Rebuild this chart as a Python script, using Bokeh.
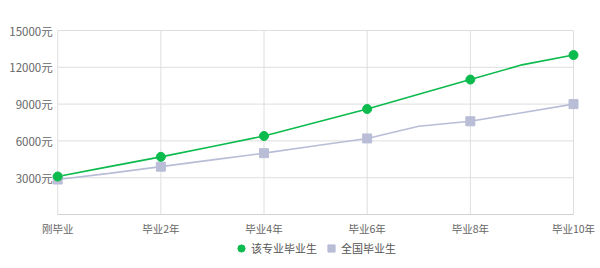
from bokeh.plotting import figure
from bokeh.models import Range1d, Legend, LegendItem
from bokeh.core.properties import value
from bokeh.embed import file_html
from bokeh.resources import INLINE

years = [0, 1, 2, 3, 4, 5, 6, 7, 8, 9, 10]
tick_years = [0, 2, 4, 6, 8, 10]
tick_labels = ["刚毕业", "毕业2年", "毕业4年", "毕业6年", "毕业8年", "毕业10年"]
y_ticks = [3000, 6000, 9000, 12000, 15000]
y_labels = ["3000元", "6000元", "9000元", "12000元", "15000元"]
major_values = [3100, 3900, 4700, 5550, 6400, 7500, 8600, 9800, 11000, 12200, 13000]
national_values = [2850, 3350, 3900, 4450, 5000, 5600, 6200, 7200, 7600, 8300, 9000]
series_names = ["该专业毕业生", "全国毕业生"]

GREEN = "#0cbb4d"
GRAY = "#b9bdd6"
GRID = "#dedede"
FONT = "Noto Sans CJK SC"

W, H = 600, 268
# pixel layout of the plotting area inside the page
left_px, right_px = 57.2, 573.0       # x of first / last year
top_px, zero_px = 30.0, 214.0         # y of top tick / zero line
xs = (right_px - left_px) / (years[-1] - years[0])
ys = (zero_px - top_px) / y_ticks[-1]
x0 = years[0] - left_px / xs
x1 = years[-1] + (W - right_px) / xs
y1 = y_ticks[-1] + top_px / ys
y0 = -(H - zero_px) / ys

p = figure(width=W, height=H, output_backend="svg", toolbar_location=None,
           x_range=Range1d(x0, x1), y_range=Range1d(y0, y1),
           min_border_left=0, min_border_right=0, min_border_top=0, min_border_bottom=0)
p.outline_line_color = None
p.background_fill_color = "white"
p.border_fill_color = "white"
p.grid.visible = False
p.axis.visible = False

# grid lines limited to the data span
n_y = len(y_ticks)
p.segment(x0=[years[0]] * n_y, x1=[years[-1]] * n_y, y0=y_ticks, y1=y_ticks,
          line_color=GRID, line_width=1)
n_x = len(tick_years)
p.segment(x0=tick_years, x1=tick_years, y0=[0] * n_x, y1=[y_ticks[-1]] * n_x,
          line_color=GRID, line_width=1)
p.segment(x0=[years[0]], x1=[years[-1]], y0=[0], y1=[0], line_color="#d2d2d2", line_width=1)

# axis labels
p.text(x=tick_years, y=[0] * n_x, text=tick_labels, text_align="center",
       text_baseline="top", y_offset=6, text_font=value(FONT),
       text_font_size="10.5px", text_color="#666666")
p.text(x=[years[0]] * n_y, y=y_ticks, text=y_labels, text_align="right",
       text_baseline="middle", x_offset=-5, text_font=value(FONT),
       text_font_size="11.5px", text_color="#666666")

# lines
p.line(years, national_values, line_color=GRAY, line_width=1.6)
p.line(years, major_values, line_color=GREEN, line_width=1.6)

mx = [years[i] for i in range(0, len(years), 2)]
nat_m = [national_values[i] for i in range(0, len(years), 2)]
maj_m = [major_values[i] for i in range(0, len(years), 2)]
r_nat = p.scatter(mx, nat_m, marker="square", size=9, fill_color=GRAY, line_color=GRAY)
r_maj = p.scatter(mx, maj_m, marker="circle", size=9, fill_color=GREEN, line_color=GREEN)

legend = Legend(items=[LegendItem(label=series_names[0], renderers=[r_maj]),
                       LegendItem(label=series_names[1], renderers=[r_nat])],
                location=(232, 11), orientation="horizontal",
                glyph_width=18, glyph_height=18, label_height=18, label_standoff=1,
                spacing=5, padding=0, margin=0, border_line_color=None,
                background_fill_alpha=0,
                label_text_font=FONT, label_text_font_size="11px",
                label_text_color="#555555")
p.add_layout(legend, "center")

open("out.html", "w").write(file_html(p, INLINE))
